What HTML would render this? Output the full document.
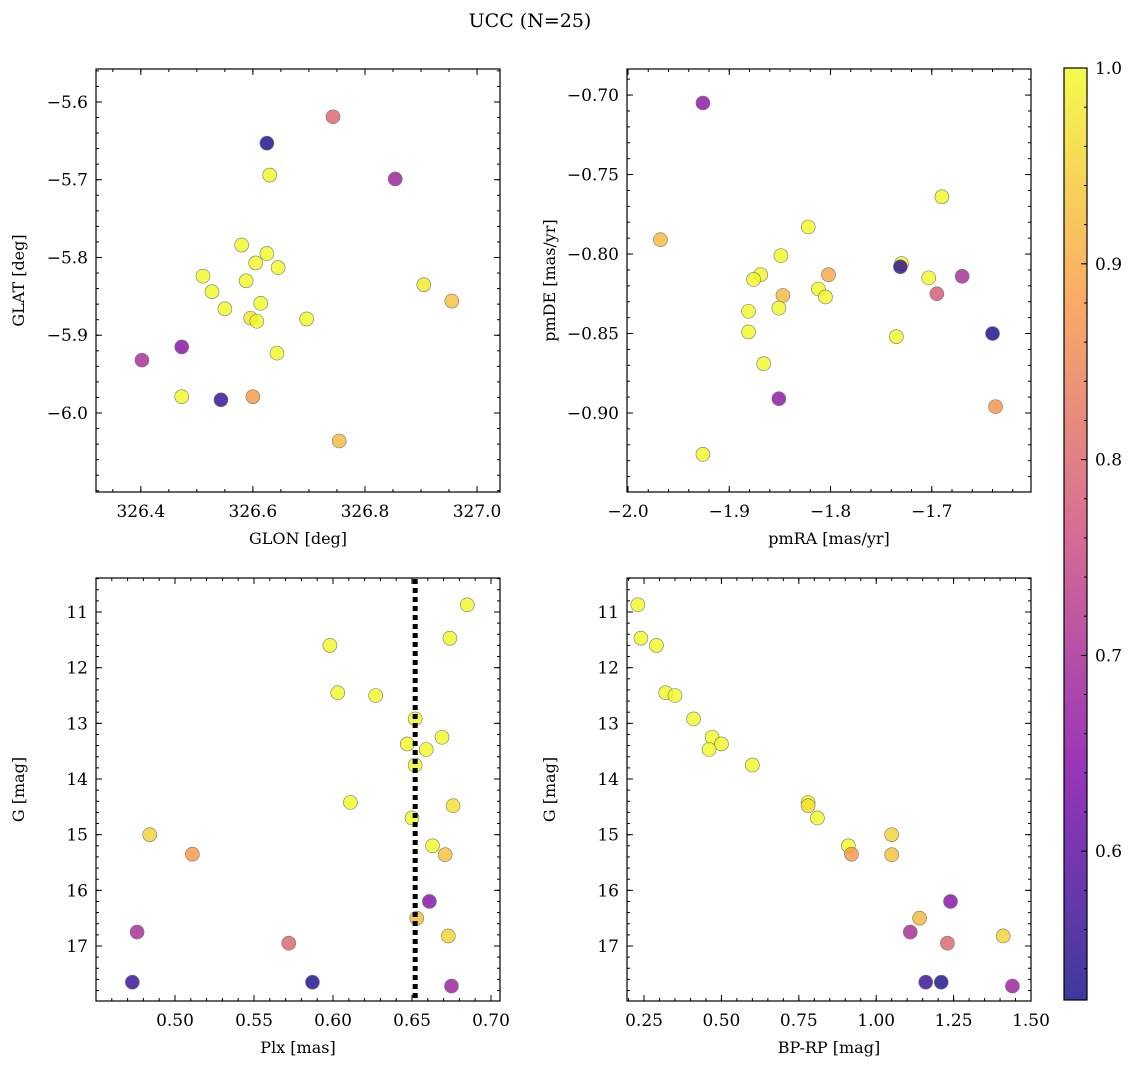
<!DOCTYPE html>
<html><head><meta charset="utf-8"><style>
body{margin:0;background:#fff}
svg{display:block;font-family:"DejaVu Serif","Liberation Serif",serif}
</style></head><body>
<svg id="fig" width="1136" height="1068" xmlns="http://www.w3.org/2000/svg">
<text x="530" y="27" text-anchor="middle" font-size="19">UCC (N=25)</text>
</svg>
<script>
// Panel data
const glon = [326.743,326.625,326.630,326.854,326.580,326.625,326.605,326.511,326.645,326.588,326.527,326.905,326.614,326.550,326.955,326.596,326.607,326.696,326.643,326.473,326.402,326.473,326.543,326.600,326.754];
const glat = [-5.619,-5.653,-5.694,-5.699,-5.784,-5.795,-5.807,-5.824,-5.813,-5.830,-5.844,-5.835,-5.859,-5.866,-5.856,-5.878,-5.882,-5.879,-5.923,-5.915,-5.932,-5.979,-5.983,-5.979,-6.036];
const probSky = [0.80,0.53,1.0,0.68,1.0,1.0,1.0,1.0,1.0,1.0,1.0,0.98,1.0,1.0,0.93,0.97,1.0,1.0,1.0,0.65,0.70,1.0,0.56,0.88,0.92];
const pmra = [-1.926,-1.968,-1.690,-1.822,-1.849,-1.730,-1.731,-1.869,-1.876,-1.802,-1.703,-1.670,-1.812,-1.847,-1.805,-1.695,-1.881,-1.851,-1.881,-1.735,-1.640,-1.866,-1.851,-1.637,-1.926];
const pmde = [-0.705,-0.791,-0.764,-0.783,-0.801,-0.806,-0.808,-0.813,-0.816,-0.813,-0.815,-0.814,-0.822,-0.826,-0.827,-0.825,-0.836,-0.834,-0.849,-0.852,-0.850,-0.869,-0.891,-0.896,-0.926];
const probPm = [0.66,0.92,1.0,1.0,1.0,1.0,0.55,1.0,1.0,0.90,1.0,0.70,1.0,0.92,1.0,0.78,1.0,1.0,1.0,1.0,0.53,1.0,0.66,0.87,1.0];
const gmag = [10.87,11.47,11.60,12.45,12.50,12.92,13.25,13.37,13.47,13.75,14.42,14.48,14.70,15.00,15.20,15.35,15.36,16.20,16.50,16.75,16.82,16.95,17.65,17.65,17.72];
const plx = [0.685,0.674,0.598,0.603,0.627,0.652,0.669,0.647,0.659,0.652,0.611,0.676,0.650,0.484,0.663,0.511,0.671,0.661,0.653,0.476,0.673,0.572,0.473,0.587,0.675];
const bprp = [0.23,0.24,0.29,0.32,0.35,0.41,0.47,0.50,0.46,0.60,0.78,0.78,0.81,1.05,0.91,0.92,1.05,1.24,1.14,1.11,1.41,1.23,1.16,1.21,1.44];
const probCmd = [1.0,1.0,1.0,1.0,1.0,1.0,1.0,1.0,1.0,1.0,1.0,0.97,1.0,0.95,1.0,0.88,0.93,0.65,0.92,0.70,0.95,0.80,0.56,0.53,0.68];
const plxLine = 0.652;
const cbTicks = [0.6,0.7,0.8,0.9,1.0];

const NS="http://www.w3.org/2000/svg";
const svg=document.getElementById('fig');
function mk(tag,attrs,parent){const e=document.createElementNS(NS,tag);for(const k in attrs)e.setAttribute(k,attrs[k]);(parent||svg).appendChild(e);return e;}
const vmin=0.524,vmax=1.0;
const stops=[[0,[13,8,135]],[0.25,[126,3,168]],[0.5,[204,71,120]],[0.75,[248,149,64]],[1,[240,249,33]]];
function plasma(t){t=Math.max(0,Math.min(1,t));for(let i=1;i<stops.length;i++){if(t<=stops[i][0]){const a=stops[i-1],b=stops[i];const f=(t-a[0])/(b[0]-a[0]);const c=a[1].map((v,j)=>Math.round(v+(b[1][j]-v)*f));return `rgb(${c[0]},${c[1]},${c[2]})`;}}return 'rgb(240,249,33)';}
function fmt(v,d){const s=Math.abs(v).toFixed(d);return (v<-1e-9?'\u2212':'')+s;}

function panel(name,box,xr,yr,xmaj,xmin,ymaj,ymin,xd,yd,xlabel,ylabel,xs,ys,ps,invertY){
  const [L,T,R,B]=box;
  const g=mk('g',{});
  
  
  const X=v=>L+(v-xr[0])/(xr[1]-xr[0])*(R-L);
  const Y=invertY?(v=>T+(v-yr[0])/(yr[1]-yr[0])*(B-T)):(v=>B-(v-yr[0])/(yr[1]-yr[0])*(B-T));
  const ticks=mk('g',{stroke:'#000','stroke-width':1},g);
  
  
  function each(start,step,lo,hi,fn){const n0=Math.ceil((lo-start)/step-1e-6);for(let i=n0;start+i*step<=hi+1e-9;i++)fn(start+i*step);}
  each(xmin[0],xmin[1],xr[0],xr[1],v=>{const x=X(v);mk('line',{x1:x,x2:x,y1:B,y2:B-3},ticks);mk('line',{x1:x,x2:x,y1:T,y2:T+3},ticks);});
  each(ymin[0],ymin[1],Math.min(...yr),Math.max(...yr),v=>{const y=Y(v);mk('line',{x1:L,x2:L+3,y1:y,y2:y},ticks);mk('line',{x1:R,x2:R-3,y1:y,y2:y},ticks);});
  each(xmaj[0],xmaj[1],xmaj[0],xmaj[2],v=>{const x=X(v);mk('line',{x1:x,x2:x,y1:B,y2:B-6},ticks);mk('line',{x1:x,x2:x,y1:T,y2:T+6},ticks);
    const t=mk('text',{x:x,y:B+25,'text-anchor':'middle','font-size':17},g);t.textContent=fmt(v,xd);
    });
  each(ymaj[0],ymaj[1],ymaj[0],ymaj[2],v=>{const y=Y(v);mk('line',{x1:L,x2:L+6,y1:y,y2:y},ticks);mk('line',{x1:R,x2:R-6,y1:y,y2:y},ticks);
    const t=mk('text',{x:L-8,y:y+6,'text-anchor':'end','font-size':17},g);t.textContent=fmt(v,yd);
    });
  const xl=mk('text',{x:(L+R)/2,y:B+52,'text-anchor':'middle','font-size':16},g);xl.textContent=xlabel;
  
  const yl=mk('text',{x:0,y:0,'text-anchor':'middle','font-size':16,transform:`translate(${L-72},${(T+B)/2}) rotate(-90)`},g);yl.textContent=ylabel;
  
  const pts=mk('g',{},g);
  
  for(let i=0;i<xs.length;i++){
    const c=mk('circle',{cx:X(xs[i]),cy:Y(ys[i]),r:7,fill:plasma((ps[i]-vmin)/(vmax-vmin)),'fill-opacity':0.8,stroke:'#777','stroke-width':0.6},pts);
    
    
  }
  const fr=mk('rect',{x:L,y:T,width:R-L,height:B-T,fill:'none',stroke:'#000','stroke-width':1.2},g);
  
  return {X,Y,g};
}
panel('sky-panel',[96,69,500,492],[326.320,327.041],[-6.1016,-5.5576],[326.4,0.2,327.0],[326.4,0.05],[-6.0,0.1,-5.6],[-6.1,0.02],1,1,'GLON [deg]','GLAT [deg]',glon,glat,probSky,false);
panel('pm-panel',[627,69,1031,492],[-2.001,-1.602],[-0.9497,-0.6836],[-2.0,0.1,-1.7],[-2.0,0.02],[-0.9,0.05,-0.7],[-0.94,0.01],1,2,'pmRA [mas/yr]','pmDE [mas/yr]',pmra,pmde,probPm,false);
const bl=panel('plx-panel',[96,578,500,1001],[0.45,0.7057],[10.389,17.988],[0.5,0.05,0.7],[0.45,0.01],[11,1,17],[10.4,0.2],2,0,'Plx [mas]','G [mag]',plx,gmag,probCmd,true);
const dl=mk('line',{x1:bl.X(plxLine),x2:bl.X(plxLine),y1:579,y2:1000,stroke:'#000','stroke-width':5,'stroke-dasharray':'5,4'});


panel('cmd-panel',[627,578,1031,1001],[0.195,1.50],[10.389,17.988],[0.25,0.25,1.5],[0.2,0.05],[11,1,17],[10.4,0.2],2,0,'BP-RP [mag]','G [mag]',bprp,gmag,probCmd,true);

// colorbar
const cb=mk('g',{});


const defs=mk('defs',{},cb);
const grad=mk('linearGradient',{id:'pl',x1:0,y1:1,x2:0,y2:0},defs);
for(let i=0;i<=20;i++){mk('stop',{offset:i/20,'stop-color':plasma(i/20),'stop-opacity':0.8},grad);}
const cL=1064,cR=1087,cT=68,cB=1000;
mk('rect',{x:cL,y:cT,width:cR-cL,height:cB-cT,fill:'url(#pl)',stroke:'#000','stroke-width':1.2},cb);
const CY=v=>cB-(v-vmin)/(vmax-vmin)*(cB-cT);
for(let v=0.54;v<=1.0001;v+=0.02){const y=CY(v);mk('line',{x1:cR,x2:cR-3,y1:y,y2:y,stroke:'#000'},cb);}
cbTicks.forEach(v=>{const y=CY(v);mk('line',{x1:cR,x2:cR-6,y1:y,y2:y,stroke:'#000'},cb);
  const t=mk('text',{x:cR+8,y:y+6,'font-size':17},cb);t.textContent=v.toFixed(1);
  
  });
</script>
</body></html>
